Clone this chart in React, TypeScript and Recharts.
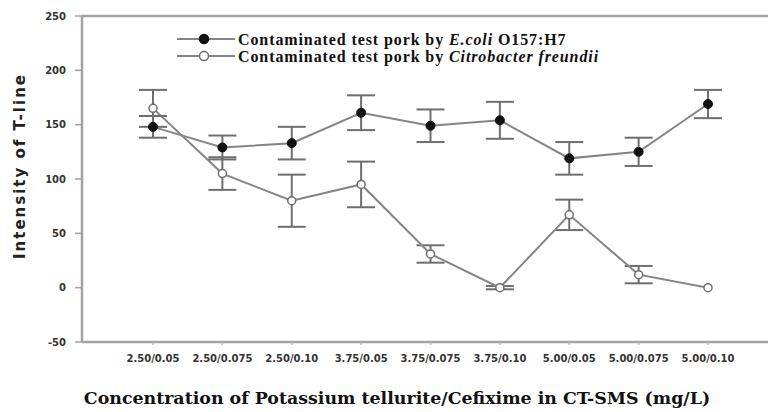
import { LineChart, Line, XAxis, YAxis, ErrorBar, ReferenceLine, Customized } from 'recharts';

// Concentration of potassium tellurite / cefixime (mg/L)
const concentrations = [
  '2.50/0.05',
  '2.50/0.075',
  '2.50/0.10',
  '3.75/0.05',
  '3.75/0.075',
  '3.75/0.10',
  '5.00/0.05',
  '5.00/0.075',
  '5.00/0.10',
];

const ecoliIntensity = [148, 129, 133, 161, 149, 154, 119, 125, 169];
const ecoliError = [10, 11, 15, 16, 15, 17, 15, 13, 13];

const citrobacterIntensity = [165, 105, 80, 95, 31, 0, 67, 12, 0];
const citrobacterError = [17, 15, 24, 21, 8, 1.5, 14, 8, 0];

const yTicks = [-50, 0, 50, 100, 150, 200, 250];

const data = concentrations.map((conc, i) => ({
  conc,
  ecoli: ecoliIntensity[i],
  ecoliErr: ecoliError[i],
  citro: citrobacterIntensity[i],
  citroErr: citrobacterError[i],
}));

const AXIS_GREY = '#a2a2a2';
const LINE_GREY = '#858585';
const BAR_GREY = '#6e6e6e';
const TICK_FONT = { fontSize: 10, fontWeight: 'bold', fill: '#333', fontFamily: 'DejaVu Sans' };

function XTitle({ viewBox }: any) {
  return (
    <text
      x={viewBox.x + 315}
      y={viewBox.y + viewBox.height + 32}
      textAnchor="middle"
      fontFamily="DejaVu Serif"
      fontWeight="bold"
      fontSize={17.4}
      fill="#111"
    >
      Concentration of Potassium tellurite/Cefixime in CT-SMS (mg/L)
    </text>
  );
}

function YTitle({ viewBox }: any) {
  const cx = viewBox.x + 20;
  const cy = viewBox.y + viewBox.height / 2 - 13;
  return (
    <text
      x={cx}
      y={cy}
      transform={`rotate(-90, ${cx}, ${cy})`}
      textAnchor="middle"
      dominantBaseline="central"
      fontFamily="DejaVu Sans"
      fontWeight="bold"
      fontSize={15}
      letterSpacing={2}
      fill="#222"
    >
      Intensity of T-line
    </text>
  );
}

function LegendBox() {
  const rows = [
    { filled: true, pre: 'Contaminated test pork by ', ital: 'E.coli', post: ' O157:H7' },
    { filled: false, pre: 'Contaminated test pork by ', ital: 'Citrobacter freundii', post: '' },
  ];
  return (
    <g>
      {rows.map((r, i) => {
        const y = 39 + i * 17;
        return (
          <g key={i}>
            <line x1={177} x2={235} y1={y} y2={y} stroke={LINE_GREY} strokeWidth={2} />
            <circle
              cx={204}
              cy={y}
              r={4.5}
              fill={r.filled ? '#111' : '#fff'}
              stroke={r.filled ? '#111' : BAR_GREY}
              strokeWidth={1.5}
            />
            <text
              x={238}
              y={y}
              dominantBaseline="central"
              fontFamily="Liberation Serif"
              fontWeight="bold"
              fontSize={16}
              letterSpacing={0.9}
              fill="#111"
            >
              {r.pre}
              <tspan fontStyle="italic">{r.ital}</tspan>
              {r.post}
            </text>
          </g>
        );
      })}
    </g>
  );
}

export default function App() {
  return (
    <div style={{ position: 'absolute', left: 0, top: 0, background: '#fff' }}>
      <LineChart width={769} height={412} data={data} margin={{ top: 16, right: 1, left: 0, bottom: 40 }}>
        <XAxis
          dataKey="conc"
          height={30}
          padding={{ left: 71, right: 60 }}
          interval={0}
          tick={TICK_FONT}
          tickSize={3}
          tickMargin={10}
          axisLine={{ stroke: AXIS_GREY, strokeWidth: 2.5 }}
          tickLine={{ stroke: '#bbb', strokeWidth: 1.5 }}
          label={<XTitle />}
        />
        <YAxis
          width={82}
          domain={[-50, 250]}
          ticks={yTicks}
          interval={0}
          tick={TICK_FONT}
          tickSize={7}
          tickMargin={9}
          axisLine={{ stroke: AXIS_GREY, strokeWidth: 2.5 }}
          tickLine={{ stroke: AXIS_GREY, strokeWidth: 1.5 }}
          label={<YTitle />}
        />
        <ReferenceLine y={250} stroke={AXIS_GREY} strokeWidth={2.5} />
        <Line
          dataKey="citro"
          stroke={LINE_GREY}
          strokeWidth={2}
          dot={{ r: 4, fill: '#fff', stroke: BAR_GREY, strokeWidth: 1.5 }}
          isAnimationActive={false}
        >
          <ErrorBar dataKey="citroErr" width={14} stroke={BAR_GREY} strokeWidth={2} direction="y" />
        </Line>
        <Line
          dataKey="ecoli"
          stroke={LINE_GREY}
          strokeWidth={2}
          dot={{ r: 4.5, fill: '#111', stroke: '#111', strokeWidth: 1 }}
          isAnimationActive={false}
        >
          <ErrorBar dataKey="ecoliErr" width={14} stroke={BAR_GREY} strokeWidth={2} direction="y" />
        </Line>
        <Customized component={LegendBox} />
      </LineChart>
    </div>
  );
}
